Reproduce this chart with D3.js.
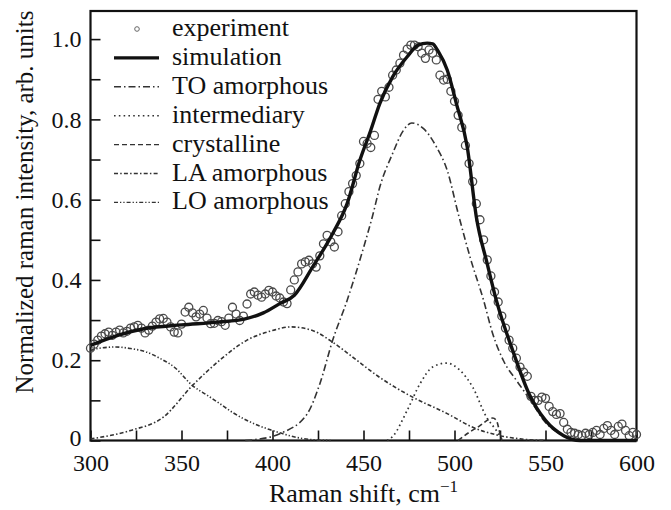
<!DOCTYPE html>
<html>
<head>
<meta charset="utf-8">
<script src="https://cdn.jsdelivr.net/npm/d3@7"></script>
<style>
  body { margin: 0; background: #fff; }
  svg text { font-family: "Liberation Serif", "Times New Roman", serif; fill: #111; }
</style>
</head>
<body>
<svg id="chart" width="671" height="510"></svg>
<script>
// experiment, every 2 cm-1 from 300 to 600
var expShift = d3.range(300, 601, 2);
var expIntensity = [
  0.23, 0.24, 0.25, 0.26, 0.266, 0.27, 0.262, 0.27, 0.275, 0.268,
  0.272, 0.28, 0.283, 0.287, 0.28, 0.268, 0.275, 0.285, 0.295, 0.303,
  0.304, 0.295, 0.283, 0.27, 0.268, 0.29, 0.32, 0.332, 0.318, 0.308,
  0.315, 0.324, 0.305, 0.291, 0.292, 0.299, 0.296, 0.287, 0.305, 0.332,
  0.315, 0.299, 0.31, 0.34, 0.365, 0.37, 0.362, 0.357, 0.365, 0.374,
  0.37, 0.36, 0.355, 0.345, 0.341, 0.375, 0.4, 0.42, 0.44, 0.445,
  0.449, 0.44, 0.432, 0.46, 0.49, 0.511, 0.495, 0.482, 0.52, 0.56,
  0.59, 0.62, 0.64, 0.66, 0.69, 0.745, 0.74, 0.73, 0.76, 0.85,
  0.87, 0.856, 0.88, 0.91, 0.923, 0.94, 0.96, 0.975, 0.985, 0.985,
  0.981, 0.965, 0.952, 0.973, 0.965, 0.948, 0.91, 0.898, 0.9, 0.87,
  0.845, 0.81, 0.78, 0.735, 0.69, 0.645, 0.59, 0.55, 0.5, 0.45,
  0.41, 0.37, 0.345, 0.31, 0.28, 0.25, 0.23, 0.205, 0.183, 0.17,
  0.16, 0.11, 0.1, 0.1, 0.108, 0.105, 0.085, 0.072, 0.065, 0.067,
  0.045, 0.028, 0.02, 0.018, 0.015, 0.012, 0.018, 0.015, 0.02, 0.025,
  0.015, 0.03, 0.037, 0.025, 0.015, 0.035, 0.041, 0.025, 0.012, 0.02,
  0.015
];

// fitted curves, [shift, intensity]
var simulation = [[300,0.237],[315,0.262],[330,0.279],[350,0.288],[370,0.295],[385,0.303],
  [395,0.318],[404,0.341],[412,0.362],[422,0.432],[433,0.515],[441,0.59],[448,0.698],
  [454,0.773],[459,0.84],[466,0.906],[474,0.956],[480,0.985],[485,0.99],[488,0.988],
  [491,0.97],[496,0.923],[501,0.84],[507,0.731],[512,0.557],[518,0.44],[523,0.349],
  [532,0.224],[541,0.116],[550,0.05],[560,0.012],[569,0],[600,0]];
var toAmorphous = [[385,0],[390,0.002],[404,0.017],[419,0.066],[426,0.141],[433,0.249],
  [441,0.349],[450,0.48],[455,0.56],[459,0.632],[466,0.715],[472,0.773],[476.5,0.791],
  [483,0.777],[490,0.732],[496,0.673],[502,0.566],[509,0.45],[516,0.349],[521,0.266],
  [527,0.198],[534,0.15],[541,0.105],[550,0.045],[560,0.012],[570,0]];
var intermediary = [[463,0],[466,0.01],[474,0.075],[481,0.141],[488,0.183],[495.6,0.193],
  [503,0.175],[510,0.133],[517.6,0.058],[523,0.025],[526,0.004]];
var crystalline = [[502,0],[508,0.02],[514,0.037],[519,0.053],[521,0.056],[523,0.05],
  [525,0.017],[526,0]];
var laAmorphous = [[300,0.004],[322,0.025],[340,0.058],[356,0.137],[371,0.2],[386,0.25],
  [400,0.274],[410,0.283],[422,0.274],[433,0.245],[444,0.208],[458,0.16],[477,0.108],
  [496,0.067],[510,0.033],[525,0.012],[536,0.004],[550,0]];
var loAmorphous = [[300,0.224],[305,0.23],[314,0.233],[322,0.229],[331,0.22],[338,0.205],
  [346,0.183],[356,0.137],[364,0.113],[371,0.092],[378,0.07],[386,0.05],[393,0.036],
  [400,0.025],[407,0.015],[413,0.008],[422,0.002],[432,0]];

var legendLabels = ["experiment", "simulation", "TO amorphous", "intermediary",
  "crystalline", "LA amorphous", "LO amorphous"];
var xTicks = d3.range(300, 601, 25);
var yTicks = d3.range(0, 1.01, 0.1);

var svg = d3.select("#chart");
var pLeft = 90.5, pRight = 636.5, pTop = 11, pBottom = 440.5;

var x = d3.scaleLinear().domain([300, 600]).range([pLeft, pRight]);
var y = d3.scaleLinear().domain([0, 1.07]).range([pBottom, pTop]);

// axes (ticks inward, labels on majors only)
var xAxis = svg.append("g")
    .attr("transform", "translate(0," + pBottom + ")")
    .call(d3.axisBottom(x).tickValues(xTicks).tickSizeInner(-10).tickSizeOuter(0)
      .tickFormat(function(d) { return d % 50 == 0 ? d : ""; }));
xAxis.select(".domain").remove();
xAxis.selectAll("line").attr("stroke", "#111").attr("stroke-width", 1.6);
xAxis.selectAll("text").attr("y", 13).attr("font-size", 24)
    .style("font-family", "'Liberation Serif', serif").attr("fill", "#111");

var yAxis = svg.append("g")
    .attr("transform", "translate(" + pLeft + ",0)")
    .call(d3.axisLeft(y).tickValues(yTicks).tickSizeInner(-10).tickSizeOuter(0).tickPadding(9)
      .tickFormat(function(d, i) {
        if (i % 2 == 1) return "";
        return i == 0 ? "0" : d3.format(".1f")(d);
      }));
yAxis.select(".domain").remove();
yAxis.selectAll("line").attr("stroke", "#111").attr("stroke-width", 1.6);
yAxis.selectAll("text").attr("font-size", 24)
    .style("font-family", "'Liberation Serif', serif").attr("fill", "#111");
yAxis.selectAll("text").filter(function(d, i) { return i == 0; }).attr("dy", "0.2em");

// frame
svg.append("rect")
    .attr("x", pLeft).attr("y", pTop)
    .attr("width", pRight - pLeft).attr("height", pBottom - pTop)
    .attr("fill", "none").attr("stroke", "#111").attr("stroke-width", 2.2);

var line = d3.line()
    .x(function(d) { return x(d[0]); })
    .y(function(d) { return y(d[1]); })
    .curve(d3.curveMonotoneX);

var styles = [
  { data: toAmorphous, dash: "7,3,1.5,3", w: 1.6 },
  { data: intermediary, dash: "1.6,3.2", w: 1.7 },
  { data: crystalline, dash: "5,3", w: 1.6 },
  { data: laAmorphous, dash: "4,2.2,1.5,2.2", w: 1.6 },
  { data: loAmorphous, dash: "4,2,1.3,2,1.3,2", w: 1.6 }
];

styles.forEach(function(s) {
  svg.append("path")
      .attr("d", line(s.data))
      .attr("fill", "none")
      .attr("stroke", "#333")
      .attr("stroke-width", s.w)
      .attr("stroke-dasharray", s.dash);
});

// experiment points
svg.append("g").selectAll("circle")
    .data(expShift)
    .enter()
    .append("circle")
    .attr("cx", function(d) { return x(d); })
    .attr("cy", function(d, i) { return y(expIntensity[i]); })
    .attr("r", 4)
    .attr("fill", "none")
    .attr("stroke", "#4a4a4a")
    .attr("stroke-width", 1.3);

svg.append("path")
    .attr("d", line(simulation))
    .attr("fill", "none")
    .attr("stroke", "#111")
    .attr("stroke-width", 3.4);

// legend
var leg = svg.append("g");
legendLabels.forEach(function(lab, i) {
  var by = 36 + i * 28.9;
  var my = by - 7;
  if (i == 0) {
    leg.append("circle").attr("cx", 137).attr("cy", my).attr("r", 2.3)
        .attr("fill", "none").attr("stroke", "#666").attr("stroke-width", 1);
  } else if (i == 1) {
    leg.append("line").attr("x1", 114).attr("x2", 159).attr("y1", my).attr("y2", my)
        .attr("stroke", "#111").attr("stroke-width", 3.4);
  } else {
    var s = styles[i - 2];
    leg.append("line").attr("x1", 114).attr("x2", 159).attr("y1", my).attr("y2", my)
        .attr("stroke", "#333").attr("stroke-width", 1.4)
        .attr("stroke-dasharray", s.dash);
  }
  leg.append("text").attr("x", 172).attr("y", by)
      .attr("font-size", 26).text(lab);
});

// axis titles
var xt = svg.append("text")
    .attr("x", (pLeft + pRight) / 2).attr("y", 502)
    .attr("text-anchor", "middle").attr("font-size", 26);
xt.append("tspan").text("Raman shift, cm");
xt.append("tspan").attr("dy", -10).attr("font-size", 17).text("\u22121");

svg.append("text")
    .attr("transform", "translate(33,202) rotate(-90)")
    .attr("text-anchor", "middle").attr("font-size", 25)
    .text("Normalized raman intensity, arb. units");
</script>
</body>
</html>
